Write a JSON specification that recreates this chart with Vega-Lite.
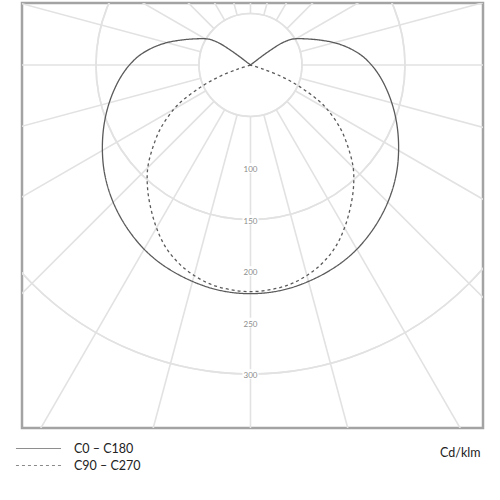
{
  "$schema": "https://vega.github.io/schema/vega-lite/v6.json",
  "description": "Polar light distribution diagram, C0-C180 and C90-C270 planes, cd/klm.",
  "width": 461,
  "height": 425,
  "autosize": "none",
  "padding": {"left": 22, "top": 3, "right": 17, "bottom": 72},
  "background": "white",
  "datasets": {
    "rings": [
      {"r": 50}, {"r": 100}, {"r": 150}, {"r": 200},
      {"r": 250}, {"r": 300}, {"r": 350}, {"r": 400}
    ],
    "spokes": [
      {"a": 0}, {"a": 15}, {"a": 30}, {"a": 45}, {"a": 60}, {"a": 75},
      {"a": 90}, {"a": 105}, {"a": 120}, {"a": 135}, {"a": 150}, {"a": 165},
      {"a": 180}, {"a": 195}, {"a": 210}, {"a": 225}, {"a": 240}, {"a": 255},
      {"a": 270}, {"a": 285}, {"a": 300}, {"a": 315}, {"a": 330}, {"a": 345}
    ],
    "ticks": [
      {"r": 100, "txt": "100"}, {"r": 150, "txt": "150"}, {"r": 200, "txt": "200"},
      {"r": 250, "txt": "250"}, {"r": 300, "txt": "300"}
    ],
    "curves": [
      {"c": "C0 – C180", "a": -128.5, "i": 0},
      {"c": "C0 – C180", "a": -127.5, "i": 13},
      {"c": "C0 – C180", "a": -126.5, "i": 25},
      {"c": "C0 – C180", "a": -125, "i": 37},
      {"c": "C0 – C180", "a": -122.5, "i": 46},
      {"c": "C0 – C180", "a": -120, "i": 51},
      {"c": "C0 – C180", "a": -115, "i": 60},
      {"c": "C0 – C180", "a": -110, "i": 71},
      {"c": "C0 – C180", "a": -105, "i": 84},
      {"c": "C0 – C180", "a": -100, "i": 96.5},
      {"c": "C0 – C180", "a": -95, "i": 108},
      {"c": "C0 – C180", "a": -90, "i": 117.5},
      {"c": "C0 – C180", "a": -85, "i": 126},
      {"c": "C0 – C180", "a": -80, "i": 134},
      {"c": "C0 – C180", "a": -75, "i": 142},
      {"c": "C0 – C180", "a": -70, "i": 150},
      {"c": "C0 – C180", "a": -65, "i": 158},
      {"c": "C0 – C180", "a": -60, "i": 166},
      {"c": "C0 – C180", "a": -55, "i": 174},
      {"c": "C0 – C180", "a": -50, "i": 181.5},
      {"c": "C0 – C180", "a": -45, "i": 188.5},
      {"c": "C0 – C180", "a": -40, "i": 195},
      {"c": "C0 – C180", "a": -35, "i": 201},
      {"c": "C0 – C180", "a": -30, "i": 206.5},
      {"c": "C0 – C180", "a": -25, "i": 211},
      {"c": "C0 – C180", "a": -20, "i": 214.5},
      {"c": "C0 – C180", "a": -15, "i": 217.5},
      {"c": "C0 – C180", "a": -10, "i": 220},
      {"c": "C0 – C180", "a": -5, "i": 221.5},
      {"c": "C0 – C180", "a": 0, "i": 222},
      {"c": "C0 – C180", "a": 5, "i": 221.5},
      {"c": "C0 – C180", "a": 10, "i": 220},
      {"c": "C0 – C180", "a": 15, "i": 217.5},
      {"c": "C0 – C180", "a": 20, "i": 214.5},
      {"c": "C0 – C180", "a": 25, "i": 211},
      {"c": "C0 – C180", "a": 30, "i": 206.5},
      {"c": "C0 – C180", "a": 35, "i": 201},
      {"c": "C0 – C180", "a": 40, "i": 195},
      {"c": "C0 – C180", "a": 45, "i": 188.5},
      {"c": "C0 – C180", "a": 50, "i": 181.5},
      {"c": "C0 – C180", "a": 55, "i": 174},
      {"c": "C0 – C180", "a": 60, "i": 166},
      {"c": "C0 – C180", "a": 65, "i": 158},
      {"c": "C0 – C180", "a": 70, "i": 150},
      {"c": "C0 – C180", "a": 75, "i": 142},
      {"c": "C0 – C180", "a": 80, "i": 134},
      {"c": "C0 – C180", "a": 85, "i": 126},
      {"c": "C0 – C180", "a": 90, "i": 117.5},
      {"c": "C0 – C180", "a": 95, "i": 108},
      {"c": "C0 – C180", "a": 100, "i": 96.5},
      {"c": "C0 – C180", "a": 105, "i": 84},
      {"c": "C0 – C180", "a": 110, "i": 71},
      {"c": "C0 – C180", "a": 115, "i": 60},
      {"c": "C0 – C180", "a": 120, "i": 51},
      {"c": "C0 – C180", "a": 122.5, "i": 46},
      {"c": "C0 – C180", "a": 125, "i": 37},
      {"c": "C0 – C180", "a": 126.5, "i": 25},
      {"c": "C0 – C180", "a": 127.5, "i": 13},
      {"c": "C0 – C180", "a": 128.5, "i": 0},
      {"c": "C90 – C270", "a": -73.5, "i": 0},
      {"c": "C90 – C270", "a": -72, "i": 13},
      {"c": "C90 – C270", "a": -70, "i": 30},
      {"c": "C90 – C270", "a": -67.5, "i": 45},
      {"c": "C90 – C270", "a": -65, "i": 59},
      {"c": "C90 – C270", "a": -62.5, "i": 74},
      {"c": "C90 – C270", "a": -60, "i": 86},
      {"c": "C90 – C270", "a": -55, "i": 106},
      {"c": "C90 – C270", "a": -50, "i": 123.5},
      {"c": "C90 – C270", "a": -45, "i": 141},
      {"c": "C90 – C270", "a": -40, "i": 155.5},
      {"c": "C90 – C270", "a": -35, "i": 169},
      {"c": "C90 – C270", "a": -30, "i": 182.5},
      {"c": "C90 – C270", "a": -25, "i": 195},
      {"c": "C90 – C270", "a": -20, "i": 204.5},
      {"c": "C90 – C270", "a": -15, "i": 211.5},
      {"c": "C90 – C270", "a": -10, "i": 216.5},
      {"c": "C90 – C270", "a": -5, "i": 219},
      {"c": "C90 – C270", "a": 0, "i": 220},
      {"c": "C90 – C270", "a": 5, "i": 219},
      {"c": "C90 – C270", "a": 10, "i": 216.5},
      {"c": "C90 – C270", "a": 15, "i": 211.5},
      {"c": "C90 – C270", "a": 20, "i": 204.5},
      {"c": "C90 – C270", "a": 25, "i": 195},
      {"c": "C90 – C270", "a": 30, "i": 182.5},
      {"c": "C90 – C270", "a": 35, "i": 169},
      {"c": "C90 – C270", "a": 40, "i": 155.5},
      {"c": "C90 – C270", "a": 45, "i": 141},
      {"c": "C90 – C270", "a": 50, "i": 123.5},
      {"c": "C90 – C270", "a": 55, "i": 106},
      {"c": "C90 – C270", "a": 60, "i": 86},
      {"c": "C90 – C270", "a": 62.5, "i": 74},
      {"c": "C90 – C270", "a": 65, "i": 59},
      {"c": "C90 – C270", "a": 67.5, "i": 45},
      {"c": "C90 – C270", "a": 70, "i": 30},
      {"c": "C90 – C270", "a": 72, "i": 13},
      {"c": "C90 – C270", "a": 73.5, "i": 0}
    ]
  },
  "layer": [
    {
      "data": {"name": "rings"},
      "mark": {"type": "arc", "theta": 0, "theta2": 6.2832, "filled": false, "stroke": "#e2e2e2", "strokeWidth": 1.6, "clip": true},
      "encoding": {
        "x": {"datum": 0, "type": "quantitative", "scale": {"domain": [-221.8, 225.7], "nice": false, "zero": false}, "axis": {"labels": false, "ticks": false, "domain": false, "grid": false, "title": "Cd/klm", "titleFont": "Lato", "titleFontSize": 12.5, "titleFontWeight": "normal", "titleColor": "#222", "titleAlign": "right", "titleBaseline": "middle", "titleX": 458, "titleY": 24}},
        "y": {"datum": 0, "type": "quantitative", "scale": {"domain": [-60.2, 352.4], "nice": false, "zero": false, "reverse": true}, "axis": null},
        "radius": {"field": "r", "type": "quantitative", "scale": {"type": "linear", "domain": [0, 400], "range": [0, 412], "zero": true}}
      }
    },
    {
      "data": {"name": "spokes"},
      "transform": [
        {"calculate": "50 * sin(datum.a * PI / 180)", "as": "x"},
        {"calculate": "50 * cos(datum.a * PI / 180)", "as": "y"},
        {"calculate": "470 * sin(datum.a * PI / 180)", "as": "x2"},
        {"calculate": "470 * cos(datum.a * PI / 180)", "as": "y2"}
      ],
      "mark": {"type": "rule", "stroke": "#e2e2e2", "strokeWidth": 1.6, "clip": true},
      "encoding": {
        "x": {"field": "x", "type": "quantitative"},
        "y": {"field": "y", "type": "quantitative"},
        "x2": {"field": "x2"},
        "y2": {"field": "y2"}
      }
    },
    {
      "data": {"name": "ticks"},
      "mark": {"type": "point", "shape": "M-1,-0.6H1V0.6H-1Z", "filled": true, "color": "white", "opacity": 1, "size": 256},
      "encoding": {
        "x": {"datum": 0, "type": "quantitative"},
        "y": {"field": "r", "type": "quantitative"}
      }
    },
    {
      "data": {"name": "ticks"},
      "mark": {"type": "text", "font": "Lato", "fontSize": 8, "color": "#8c8c8c", "dy": 2},
      "encoding": {
        "x": {"datum": 0, "type": "quantitative"},
        "y": {"field": "r", "type": "quantitative"},
        "text": {"field": "txt"}
      }
    },
    {
      "data": {"name": "curves"},
      "transform": [
        {"calculate": "datum.i * sin(datum.a * PI / 180)", "as": "x"},
        {"calculate": "datum.i * cos(datum.a * PI / 180)", "as": "y"}
      ],
      "mark": {"type": "line", "interpolate": "catmull-rom", "color": "#5a5a5a", "strokeWidth": 1.3},
      "encoding": {
        "x": {"field": "x", "type": "quantitative"},
        "y": {"field": "y", "type": "quantitative"},
        "order": {"field": "a", "type": "quantitative"},
        "strokeDash": {
          "field": "c",
          "type": "nominal",
          "scale": {"domain": ["C0 – C180", "C90 – C270"], "range": [[1, 0], [3, 3]]},
          "legend": {
            "orient": "none",
            "legendX": 10,
            "legendY": 439,
            "title": null,
            "symbolType": "M-4,0H4",
            "symbolSize": 127,
            "symbolStrokeColor": "#8a8a8a",
            "symbolStrokeWidth": 1,
            "labelFont": "Lato",
            "labelFontSize": 12.5,
            "labelColor": "#222",
            "labelOffset": 29,
            "rowPadding": 4
          }
        }
      }
    }
  ],
  "config": {
    "view": {"stroke": "#a3a3a3", "strokeWidth": 2.5}
  }
}
